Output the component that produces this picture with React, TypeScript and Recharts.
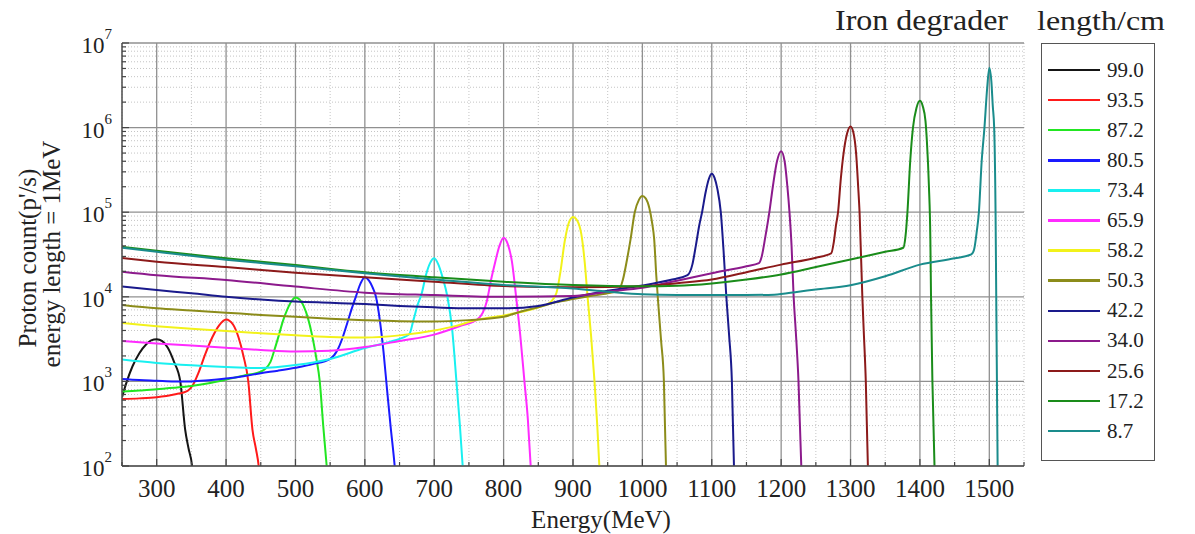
import React from 'react';
import { LineChart, Line, XAxis, YAxis, CartesianGrid, Legend } from 'recharts';

type Pt = [number, number]; // [energy MeV, proton count]

const SERIF = '"Liberation Serif", "Times New Roman", serif';

// axis ticks
const energyMajor = [300, 400, 500, 600, 700, 800, 900, 1000, 1100, 1200, 1300, 1400, 1500];
const energyMinor = [250, 350, 450, 550, 650, 750, 850, 950, 1050, 1150, 1250, 1350, 1450, 1550];
const decades = [1e2, 1e3, 1e4, 1e5, 1e6, 1e7];
const countMinor = decades.slice(0, -1).flatMap((d) => [2, 3, 4, 5, 6, 7, 8, 9].map((m) => m * d));

// legend
const lengths = ['99.0', '93.5', '87.2', '80.5', '73.4', '65.9', '58.2', '50.3', '42.2', '34.0', '25.6', '17.2', '8.7'];
const colors = [
  '#151515', '#ff1a1a', '#22e622', '#1a1aff', '#19f0f0', '#ff2bff', '#f2f21a',
  '#8c8c1a', '#1a1a8c', '#8c1a8c', '#8c1a1a', '#1a8c1a', '#1a8c8c',
];

// per degrader length
const s990: Pt[] = [
  [250, 650], [257, 1000], [265, 1500], [275, 2150], [285, 2750], [292, 3050], [300, 3150],
  [308, 3000], [316, 2500], [325, 1700], [334, 1000], [341, 270], [346, 160], [351, 100], [354, 50],
];
const s935: Pt[] = [
  [250, 620], [275, 630], [300, 650], [325, 700], [345, 780], [352, 900], [360, 1250], [370, 2100],
  [380, 3300], [390, 4600], [400, 5400], [410, 4700], [418, 3300], [425, 2000], [432, 1000],
  [438, 270], [443, 160], [447, 100], [450, 50],
];
const s872: Pt[] = [
  [250, 760], [275, 780], [300, 810], [325, 840], [350, 880], [375, 950], [400, 1050], [425, 1170],
  [450, 1300], [464, 1700], [470, 2400], [476, 3500], [482, 5200], [488, 7000], [494, 8800],
  [500, 9800], [506, 9300], [512, 7700], [518, 5600], [524, 3500], [530, 1900], [535, 1000],
  [540, 300], [545, 100], [548, 50],
];
const s805: Pt[] = [
  [250, 1070], [275, 1040], [300, 1020], [325, 1000], [350, 1000], [375, 1030], [400, 1080],
  [425, 1150], [450, 1250], [475, 1340], [500, 1450], [525, 1600], [550, 1850], [560, 2300],
  [568, 3300], [575, 5000], [581, 7200], [587, 10000], [594, 14500], [600, 17000], [606, 15500],
  [611, 13000], [616, 10000], [622, 5000], [627, 2200], [632, 800], [637, 300], [643, 100], [646, 50],
];
const s734: Pt[] = [
  [250, 1810], [300, 1650], [350, 1550], [400, 1480], [450, 1440], [500, 1560], [550, 1840],
  [600, 2480], [640, 3000], [664, 3600], [670, 5300], [676, 8000], [682, 11000], [688, 18000],
  [694, 25000], [700, 28500], [706, 24000], [712, 17000], [719, 10000], [726, 4000], [732, 1000],
  [737, 300], [741, 100], [744, 50],
];
const s659: Pt[] = [
  [250, 3000], [300, 2800], [350, 2650], [400, 2500], [450, 2350], [500, 2250], [550, 2300],
  [600, 2550], [650, 3000], [700, 3570], [740, 4600], [762, 5400], [770, 6500], [776, 9000],
  [782, 16000], [788, 26000], [794, 40000], [800, 50000], [806, 42000], [812, 26000], [818, 10000],
  [824, 3500], [830, 1000], [835, 350], [839, 100], [842, 50],
];
const s582: Pt[] = [
  [250, 4900], [300, 4500], [350, 4200], [400, 3950], [450, 3700], [500, 3500], [550, 3350],
  [600, 3300], [650, 3500], [700, 4000], [730, 4500], [760, 5300], [800, 6000], [825, 6600],
  [850, 7500], [868, 8700], [876, 11000], [882, 20000], [888, 45000], [894, 75000], [900, 88000],
  [906, 80000], [912, 55000], [917, 25000], [921, 10000], [926, 3500], [931, 1000], [935, 300],
  [938, 100], [941, 50],
];
const s503: Pt[] = [
  [250, 8000], [300, 7300], [350, 6900], [400, 6500], [450, 6100], [500, 5800], [550, 5500],
  [600, 5300], [650, 5150], [700, 5100], [750, 5300], [800, 5800], [825, 6700], [850, 7500],
  [875, 8600], [900, 9400], [925, 10200], [950, 11000], [965, 11800], [972, 16000], [978, 28000],
  [983, 48000], [989, 100000], [995, 140000], [1000, 155000], [1005, 145000], [1010, 112000],
  [1014, 75000], [1017, 48000], [1020, 18000], [1023, 8000], [1027, 3000], [1031, 1000],
  [1034, 100], [1036, 50],
];
const s422: Pt[] = [
  [250, 13200], [300, 12000], [350, 11000], [400, 10000], [450, 9300], [500, 8800], [550, 8500],
  [600, 8200], [650, 7800], [700, 7500], [750, 7300], [800, 7300], [850, 7800], [900, 9800],
  [950, 11800], [1000, 13600], [1040, 15800], [1065, 18000], [1072, 24000], [1077, 40000],
  [1082, 70000], [1086, 100000], [1091, 170000], [1096, 250000], [1100, 285000], [1104, 255000],
  [1108, 190000], [1113, 100000], [1117, 35000], [1121, 10000], [1125, 3500], [1129, 1000],
  [1132, 100], [1134, 50],
];
const s340: Pt[] = [
  [250, 19800], [300, 18000], [400, 15800], [500, 13200], [600, 11200], [700, 10500], [800, 10000],
  [900, 10200], [950, 11500], [1000, 12800], [1050, 15500], [1100, 19000], [1150, 23000],
  [1168, 25000], [1172, 30000], [1177, 50000], [1183, 100000], [1188, 200000], [1194, 400000],
  [1200, 527000], [1205, 400000], [1209, 200000], [1212, 100000], [1215, 40000], [1218, 10000],
  [1221, 4000], [1225, 1000], [1229, 100], [1231, 50],
];
const s256: Pt[] = [
  [250, 28700], [300, 26000], [400, 22500], [500, 19300], [600, 17000], [700, 15100], [800, 13400],
  [900, 13000], [1000, 13300], [1050, 14500], [1100, 16000], [1150, 19500], [1200, 24000],
  [1250, 29000], [1272, 32500], [1276, 45000], [1279, 70000], [1282, 100000], [1286, 250000],
  [1290, 500000], [1295, 850000], [1300, 1030000], [1304, 880000], [1308, 500000], [1311, 200000],
  [1313, 100000], [1317, 10000], [1319, 4000], [1322, 1000], [1325, 100], [1327, 50],
];
const s172: Pt[] = [
  [250, 39000], [300, 35000], [400, 28500], [500, 23700], [600, 19500], [700, 17000], [800, 15100],
  [900, 13800], [1000, 13300], [1050, 13500], [1100, 14400], [1150, 16000], [1200, 18400],
  [1250, 22500], [1300, 27600], [1350, 34000], [1376, 38000], [1379, 50000], [1382, 100000],
  [1386, 400000], [1390, 1000000], [1395, 1700000], [1400, 2070000], [1404, 1800000],
  [1408, 1200000], [1410, 700000], [1413, 200000], [1415, 50000], [1416, 10000], [1418, 1000],
  [1421, 100], [1423, 50],
];
const s087: Pt[] = [
  [250, 38000], [300, 34000], [400, 27500], [500, 23000], [600, 19000], [700, 16000], [800, 13800],
  [900, 12500], [950, 11500], [1000, 10700], [1050, 10500], [1100, 10500], [1150, 10500],
  [1190, 10600], [1225, 11500], [1250, 12200], [1300, 13700], [1350, 17500], [1400, 24000],
  [1450, 28500], [1474, 31700], [1478, 36000], [1482, 60000], [1485, 100000], [1489, 400000],
  [1493, 1000000], [1497, 3000000], [1500, 5100000], [1503, 3500000], [1505, 1800000],
  [1507, 1000000], [1509, 100000], [1510, 10000], [1511, 1000], [1512, 100], [1513, 50],
];

const series = [s990, s935, s872, s805, s734, s659, s582, s503, s422, s340, s256, s172, s087];

const isDecade = (v: number) => {
  const e = Math.log10(v);
  return Math.abs(e - Math.round(e)) < 1e-6;
};

const BottomTick = (props: any) => {
  const { x, y, payload } = props;
  const major = payload.value % 100 === 0;
  return (
    <g>
      <line x1={x} y1={y} x2={x} y2={y - (major ? 7 : 4)} stroke="#444" strokeWidth={1.2} />
      {major && (
        <text x={x} y={y + 31} textAnchor="middle" fontSize={25} fontFamily={SERIF} fill="#222">
          {payload.value}
        </text>
      )}
    </g>
  );
};

const TopTick = (props: any) => {
  const { x, y, payload } = props;
  const major = payload.value % 100 === 0;
  return <line x1={x} y1={y} x2={x} y2={y + (major ? 7 : 4)} stroke="#444" strokeWidth={1.2} />;
};

const LeftTick = (props: any) => {
  const { x, y, payload } = props;
  const major = isDecade(payload.value);
  return (
    <g>
      <line x1={x} y1={y} x2={x + (major ? 7 : 4)} y2={y} stroke="#444" strokeWidth={1.2} />
      {major && (
        <text x={x - 10} y={y + 10} textAnchor="end" fontSize={23} fontFamily={SERIF} fill="#222">
          10
          <tspan dy={-14} fontSize={15}>
            {Math.round(Math.log10(payload.value))}
          </tspan>
        </text>
      )}
    </g>
  );
};

const RightTick = (props: any) => {
  const { x, y, payload } = props;
  const major = isDecade(payload.value);
  return <line x1={x} y1={y} x2={x - (major ? 7 : 4)} y2={y} stroke="#444" strokeWidth={1.2} />;
};

const LengthLegend = () => (
  <div
    style={{
      width: 114,
      height: 418,
      border: '1.5px solid #555',
      boxSizing: 'border-box',
      position: 'relative',
      background: '#fff',
      fontFamily: SERIF,
    }}
  >
    {lengths.map((l, i) => (
      <div
        key={l}
        style={{ position: 'absolute', left: 6, top: 14 + i * 30.1, height: 24, display: 'flex', alignItems: 'center' }}
      >
        <span style={{ display: 'inline-block', width: 52, height: 2.5, background: colors[i] }} />
        <span style={{ marginLeft: 7, fontSize: 21, color: '#222' }}>{l}</span>
      </div>
    ))}
  </div>
);

export default function App() {
  return (
    <div style={{ position: 'absolute', left: 0, top: 0, width: 1195, height: 534, background: '#fff' }}>
      <LineChart width={1195} height={534} margin={{ top: 43, right: 171, bottom: 0, left: 62 }}>
        <CartesianGrid verticalValues={energyMinor} horizontalValues={countMinor} stroke="#c4c4c4" strokeDasharray="1 2" />
        <CartesianGrid verticalValues={energyMajor} horizontalValues={decades} stroke="#909090" strokeWidth={1.3} />
        <XAxis
          xAxisId={0}
          type="number"
          dataKey="e"
          domain={[250, 1550]}
          allowDataOverflow
          ticks={[...energyMajor, ...energyMinor].sort((a, b) => a - b)}
          interval={0}
          tick={<BottomTick />}
          tickLine={false}
          tickSize={0}
          tickMargin={0}
          height={68}
          axisLine={{ stroke: '#555', strokeWidth: 1.6 }}
        />
        <XAxis
          xAxisId="top"
          orientation="top"
          type="number"
          dataKey="e"
          domain={[250, 1550]}
          allowDataOverflow
          ticks={[...energyMajor, ...energyMinor].sort((a, b) => a - b)}
          interval={0}
          tick={<TopTick />}
          tickLine={false}
          tickSize={0}
          tickMargin={0}
          height={0}
          axisLine={{ stroke: '#555', strokeWidth: 1.6 }}
        />
        <YAxis
          yAxisId={0}
          scale="log"
          domain={[100, 1e7]}
          allowDataOverflow
          ticks={[...decades, ...countMinor]}
          interval={0}
          tick={<LeftTick />}
          tickLine={false}
          tickSize={0}
          tickMargin={0}
          width={60}
          axisLine={{ stroke: '#555', strokeWidth: 1.6 }}
        />
        <YAxis
          yAxisId="right"
          orientation="right"
          scale="log"
          domain={[100, 1e7]}
          allowDataOverflow
          ticks={[...decades, ...countMinor]}
          interval={0}
          tick={<RightTick />}
          tickLine={false}
          tickSize={0}
          tickMargin={0}
          width={0}
          axisLine={{ stroke: '#555', strokeWidth: 1.6 }}
        />
        {series.map((pts, i) => (
          <Line
            key={lengths[i]}
            name={lengths[i]}
            data={pts.map(([e, v]) => ({ e, v }))}
            dataKey="v"
            type="monotone"
            stroke={colors[i]}
            strokeWidth={2}
            dot={false}
            activeDot={false}
            isAnimationActive={false}
          />
        ))}
        <Legend
          layout="vertical"
          align="center"
          verticalAlign="middle"
          content={<LengthLegend />}
          wrapperStyle={{ position: 'absolute', left: 1041, top: 43, width: 114, height: 418 }}
        />
      </LineChart>
      <svg
        width={1195}
        height={534}
        style={{ position: 'absolute', left: 0, top: 0, pointerEvents: 'none' }}
        fontFamily={SERIF}
        fill="#222"
      >
        <text x={835} y={30} fontSize={30} textLength={173} lengthAdjust="spacingAndGlyphs">
          Iron degrader
        </text>
        <text x={1037} y={30} fontSize={28} textLength={128} lengthAdjust="spacingAndGlyphs">
          length/cm
        </text>
        <text x={601} y={528} fontSize={25} textAnchor="middle">
          Energy(MeV)
        </text>
        <text x={36} y={258} fontSize={25} textAnchor="middle" transform="rotate(-90 36 258)">
          Proton count(p'/s)
        </text>
        <text x={60} y={254} fontSize={25} textAnchor="middle" transform="rotate(-90 60 254)">
          energy length = 1MeV
        </text>
      </svg>
    </div>
  );
}
